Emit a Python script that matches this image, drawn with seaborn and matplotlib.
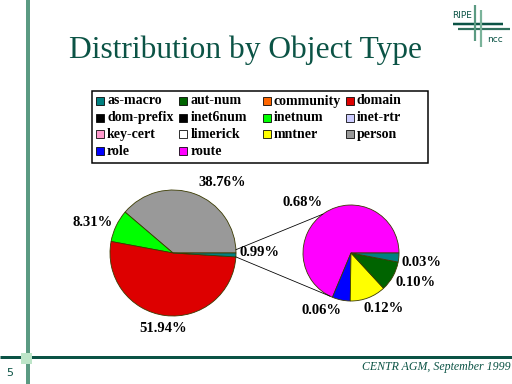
import matplotlib
matplotlib.use("Agg")
import matplotlib.pyplot as plt
from matplotlib.patches import Rectangle
import numpy as np
import seaborn as sns

# ---------------- data ----------------
categories = ["as-macro", "aut-num", "community", "domain",
              "dom-prefix", "inet6num", "inetnum", "inet-rtr",
              "key-cert", "limerick", "mntner", "person",
              "role", "route"]
category_colors = ["#008080", "#006400", "#ff6600", "#dd0000",
                   "#000000", "#000000", "#00ff00", "#ccccff",
                   "#ff99cc", "#ffffff", "#ffff00", "#999999",
                   "#0000ff", "#ff00ff"]

main_labels = ["person", "inetnum", "domain", "other"]
main_values = [38.76, 8.31, 51.94, 0.99]

sub_labels = ["route", "role", "mntner", "aut-num", "as-macro"]
sub_values = [0.68, 0.06, 0.12, 0.10, 0.03]

title = "Distribution by Object Type"
footer = "CENTR AGM, September 1999"
page_no = "5"

# ---------------- style ----------------
sns.set_theme(style="white")
plt.rcParams["font.family"] = ["Liberation Serif", "DejaVu Serif"]
palette = dict(zip(categories, sns.color_palette(category_colors)))
palette["other"] = palette["as-macro"]

DARK = "#0b5345"
MID = "#5b9a82"
W, H = 512, 384
PX = 0.72  # points per pixel at dpi 100


def Y(y):
    return H - y


fig = plt.figure(figsize=(5.12, 3.84), dpi=100)
ax = fig.add_axes([0, 0, 1, 1])

# ---------------- slide decoration ----------------
ax.plot([28, 28], [Y(0), Y(384)], color=MID, lw=4 * PX, solid_capstyle="butt", zorder=1)
ax.plot([0, 512], [Y(357), Y(357)], color=DARK, lw=3 * PX, solid_capstyle="butt", zorder=1)
ax.add_patch(Rectangle((21, Y(364)), 11, 11, facecolor="#bde5c8", edgecolor="none", zorder=2))
ax.text(10, Y(373), page_no, ha="center", va="center", fontsize=8,
        color=DARK, family=["DejaVu Sans"])
ax.text(511, Y(367), footer, ha="right", va="center", fontsize=8.6,
        style="italic", color=DARK)

# logo
ax.plot([453, 503], [Y(24), Y(24)], color=DARK, lw=2.5 * PX, solid_capstyle="butt", zorder=1)
ax.plot([458, 510], [Y(29), Y(29)], color="#2f6f5c", lw=2.2 * PX, solid_capstyle="butt", zorder=1)
ax.plot([475, 475], [Y(5), Y(41)], color=MID, lw=2.2 * PX, solid_capstyle="butt", zorder=2)
ax.plot([480.5, 480.5], [Y(10), Y(47)], color="#7ab39a", lw=2.2 * PX, solid_capstyle="butt", zorder=2)
ax.text(462, Y(16), "RIPE", ha="center", va="center", fontsize=6.5,
        color=DARK, family=["DejaVu Sans"])
ax.text(495.5, Y(39), "ncc", ha="center", va="center", fontsize=6.5,
        color=DARK, family=["DejaVu Sans"])

# title
ax.text(245.5, Y(50), title, ha="center", va="center", fontsize=22.7, color=DARK)

# ---------------- legend ----------------
ax.add_patch(Rectangle((92, Y(163)), 336, 72, facecolor="white",
                       edgecolor="black", lw=1.5 * PX, zorder=2))
for i, name in enumerate(categories):
    r, c = divmod(i, 4)
    mx = 96 + 83.3 * c
    my = 101 + 16.7 * r
    ax.add_patch(Rectangle((mx, Y(my) - 4), 8, 8, facecolor=palette[name],
                           edgecolor="black", lw=0.8 * PX, zorder=3))
    ax.text(mx + 11, Y(my), name, ha="left", va="center", fontsize=10,
            fontweight="bold", color="black", zorder=3)

# ---------------- pies ----------------
C1, R1 = (173, Y(253)), 63
C2, R2 = (351, Y(253)), 48
edge = dict(edgecolor="#3a3a00", linewidth=0.6)

w1, _ = ax.pie(main_values, colors=[palette[n] for n in main_labels],
               startangle=0, counterclock=True, center=C1, radius=R1,
               wedgeprops=edge, frame=True)
w2, _ = ax.pie(sub_values, colors=[palette[n] for n in sub_labels],
               startangle=0, counterclock=True, center=C2, radius=R2,
               wedgeprops=edge, frame=True)

# connector lines between the "other" slice and the breakdown pie
other = w1[-1]
a_top, a_bot = np.deg2rad(other.theta2 + 3), np.deg2rad(other.theta1)
b_top, b_bot = np.deg2rad(126), np.deg2rad(244)
for a, b in [(a_top, b_top), (a_bot, b_bot)]:
    ax.plot([C1[0] + R1 * np.cos(a), C2[0] + R2 * np.cos(b)],
            [C1[1] + R1 * np.sin(a), C2[1] + R2 * np.sin(b)],
            color="black", lw=0.8 * PX, zorder=4)

# percentage labels
main_label_pos = [(222, 182), (93, 222), (163, 328), (260, 253)]
sub_label_pos = [(303, 202), (322, 311), (384, 308), (416, 283), (422, 262)]
for v, (x, y) in zip(main_values, main_label_pos):
    ax.text(x, Y(y), f"{v:.2f}%", ha="center", va="center", fontsize=10.5,
            fontweight="bold", color="black", zorder=5)
for v, (x, y) in zip(sub_values, sub_label_pos):
    ax.text(x, Y(y), f"{v:.2f}%", ha="center", va="center", fontsize=10.5,
            fontweight="bold", color="black", zorder=5)

ax.set_xlim(0, W)
ax.set_ylim(0, H)
ax.set_aspect("equal", adjustable="datalim")
ax.axis("off")

fig.savefig("out.png", dpi=100, facecolor="white")
